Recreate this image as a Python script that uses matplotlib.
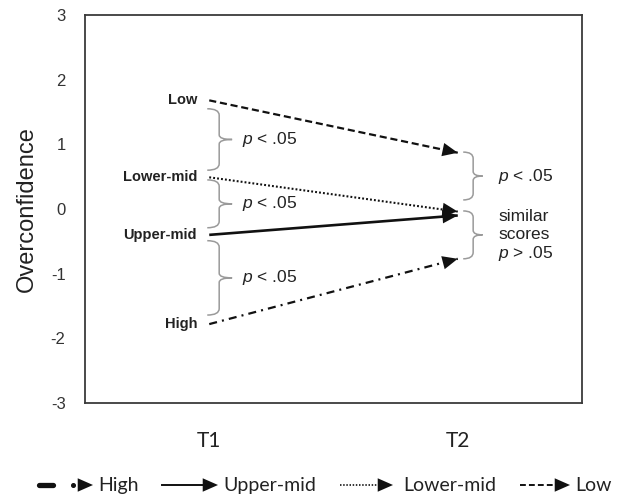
import numpy as np
import matplotlib
matplotlib.use("Agg")
import matplotlib.pyplot as plt
from matplotlib.path import Path
from matplotlib.patches import PathPatch
from matplotlib.lines import Line2D

plt.rcParams.update({
    "font.family": "Liberation Sans",
    "mathtext.fontset": "custom",
    "mathtext.rm": "Liberation Sans",
    "mathtext.it": "Liberation Sans:italic",
})

# ---- data -------------------------------------------------------------
time_labels = ["T1", "T2"]
time_pos = [1, 2]
groups = ["High", "Upper-mid", "Lower-mid", "Low"]
score_t1 = [-1.78, -0.40, 0.49, 1.68]
score_t2 = [-0.77, -0.10, -0.04, 0.87]

# brace spans (top, bottom) and their labels
left_braces = [(1.55, 0.60), (0.45, -0.29), (-0.49, -1.64)]
left_brace_text = ["$p$ < .05", "$p$ < .05", "$p$ < .05"]
right_braces = [(0.88, 0.14), (-0.03, -0.77)]
right_brace_text = [["$p$ < .05"], ["similar", "scores", "$p$ > .05"]]

# line styles per group (dash patterns in linewidth units)
styles = {
    "High": dict(lw=1.6, ls=(0, (3.6, 2.3, 0.9, 2.3))),
    "Upper-mid": dict(lw=1.9, ls="-"),
    "Lower-mid": dict(lw=1.5, ls=(0, (0.9, 1.0))),
    "Low": dict(lw=1.6, ls=(0, (3.2, 1.7))),
}

W, H = 625, 494
fig = plt.figure(figsize=(W / 100, H / 100), dpi=100)
ax = fig.add_axes([85 / W, 1 - 403 / H, (582 - 85) / W, (403 - 15) / H])
ax.set_xlim(0.5, 2.5)
ax.set_ylim(-3, 3)
ax.set_yticks(np.arange(-3, 4))
ax.set_yticklabels([str(v) for v in range(-3, 4)], fontsize=12, color="#333333")
ax.set_xticks(time_pos)
ax.set_xticklabels(time_labels, fontsize=15, family="Lato", color="#222222")
ax.tick_params(axis="y", length=0, pad=14)
ax.tick_params(axis="x", length=0, pad=20)
for sp in ax.spines.values():
    sp.set_color("#3a3a3a")
    sp.set_linewidth(1.3)
ax.set_ylabel("Overconfidence", fontsize=17, color="#222222", labelpad=9)


def head(tip, back, xycoords="data"):
    ax.annotate("", xy=tip, xycoords=xycoords, xytext=back, textcoords=xycoords,
                arrowprops=dict(arrowstyle="-|>,head_length=1.0,head_width=0.44",
                                mutation_scale=11, lw=0, color="#111111",
                                shrinkA=0, shrinkB=0))


# ---- group lines T1 -> T2 ---------------------------------------------
for g, a, b in zip(groups, score_t1, score_t2):
    st = styles[g]
    ax.plot(time_pos, [a, b], color="#111111", lw=st["lw"], linestyle=st["ls"],
            solid_capstyle="butt", dash_capstyle="butt")
    x0, x1 = time_pos
    head((x1, b), (x1 - 0.01 * (x1 - x0), b - 0.01 * (b - a)))
    ax.text(0.951, a, g, ha="right", va="center", fontsize=10.5,
            fontweight="bold", color="#222222")


def brace(x0, xv, xt, top, bot, r=0.10, rm=0.07):
    mid = (top + bot) / 2
    verts = [(x0, top), (xv, top), (xv, top - r),
             (xv, mid + rm), (xv, mid), (xt, mid),
             (xv, mid), (xv, mid - rm),
             (xv, bot + r), (xv, bot), (x0, bot)]
    codes = [Path.MOVETO, Path.CURVE3, Path.CURVE3,
             Path.LINETO, Path.CURVE3, Path.CURVE3,
             Path.CURVE3, Path.CURVE3,
             Path.LINETO, Path.CURVE3, Path.CURVE3]
    ax.add_patch(PathPatch(Path(verts, codes), fill=False,
                           edgecolor="#9a9a9a", lw=1.1))
    return mid


for (top, bot), txt in zip(left_braces, left_brace_text):
    mid = brace(0.992, 1.040, 1.092, top, bot)
    ax.text(1.133, mid, txt, ha="left", va="center", fontsize=12.5, color="#222222")

for (top, bot), lines in zip(right_braces, right_brace_text):
    mid = brace(2.022, 2.062, 2.100, top, bot)
    pitch = 0.29
    start = mid + pitch * (len(lines) - 1) / 2
    for i, t in enumerate(lines):
        ax.text(2.163, start - i * pitch, t, ha="left", va="center",
                fontsize=12.5, color="#222222")

# ---- legend row -------------------------------------------------------
ly = 1 - 485 / H


def fx(px):
    return px / W


def leg_head(x_tip):
    head((fx(x_tip), ly), (fx(x_tip - 1), ly), xycoords="figure fraction")


fig.add_artist(Line2D([fx(39), fx(53)], [ly, ly], color="#111111", lw=3.8,
                      solid_capstyle="round"))
fig.add_artist(Line2D([fx(73)], [ly], color="#111111", marker="o", ms=2.6, lw=0))
leg_head(93)
fig.add_artist(Line2D([fx(162), fx(210)], [ly, ly], color="#111111", lw=1.4))
leg_head(218)
fig.add_artist(Line2D([fx(340), fx(386)], [ly, ly], color="#111111", lw=1.2,
                      linestyle=(0, (0.9, 1.0))))
leg_head(393)
fig.add_artist(Line2D([fx(520), fx(563)], [ly, ly], color="#111111", lw=1.4,
                      linestyle=(0, (3.0, 1.6))))
leg_head(570)

for px, g in zip([98, 223, 403, 575], groups):
    fig.text(fx(px), ly, g, ha="left", va="center", fontsize=14,
             family="Lato", color="#222222")

fig.savefig("out.png", dpi=100)
